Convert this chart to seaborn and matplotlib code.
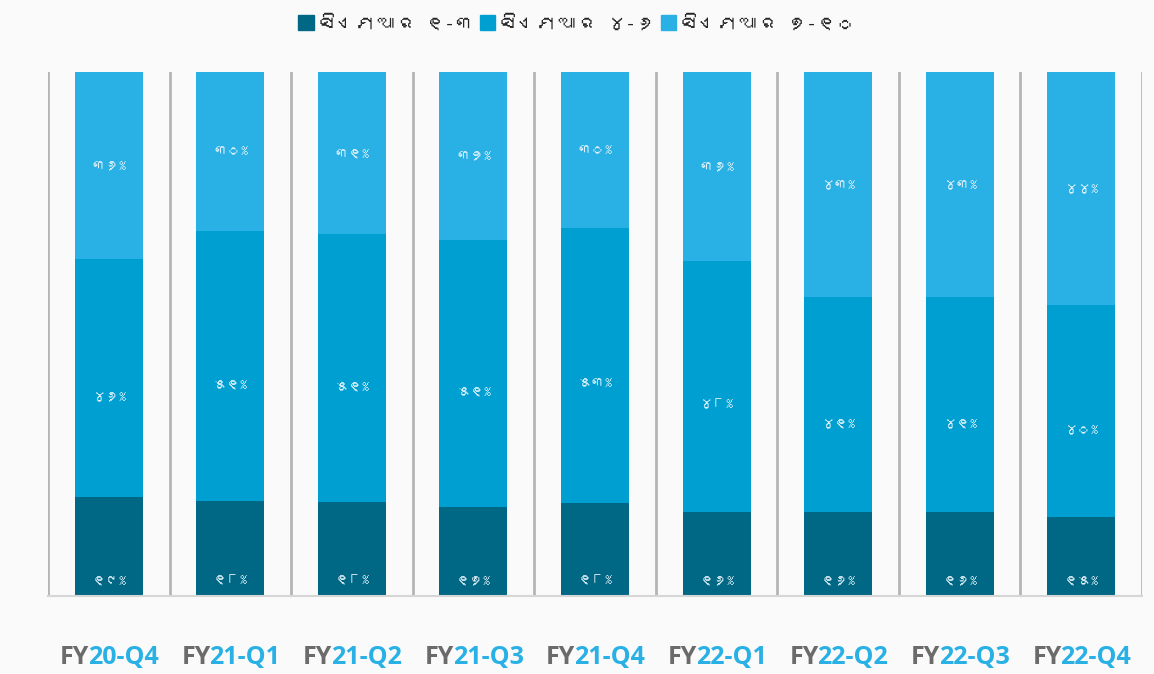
import numpy as np
import pandas as pd
import matplotlib
matplotlib.use('Agg')
import matplotlib.pyplot as plt
import seaborn as sns
from matplotlib import font_manager
from matplotlib.ft2font import FT2Font
from matplotlib.patches import Patch

# Data (percent of each quarter)
quarters = ['FY20-Q4', 'FY21-Q1', 'FY21-Q2', 'FY21-Q3', 'FY21-Q4',
            'FY22-Q1', 'FY22-Q2', 'FY22-Q3', 'FY22-Q4']
cmr_1_3 = [19, 18, 18, 17, 18, 16, 16, 16, 15]
cmr_4_6 = [46, 51, 51, 51, 53, 48, 41, 41, 40]
cmr_7_10 = [36, 30, 31, 32, 30, 36, 43, 43, 44]
series_names = ['ସିଏମଆର ୧-୩', 'ସିଏମଆର ୪-୬', 'ସିଏମଆର ୭-୧୦']
colors = ['#006885', '#009fd2', '#29b1e6']

# find a font that has Odia glyphs, if any is installed
odia_font = None
for f in font_manager.fontManager.ttflist:
    try:
        if 0x0B38 in FT2Font(f.fname).get_charmap():
            odia_font = f.name
            break
    except Exception:
        pass
fams = ([odia_font] if odia_font else []) + ['Noto Sans', 'DejaVu Sans']

sns.set_style('white')
plt.rcParams['font.family'] = fams

odia_digits = '୦୧୨୩୪୫୬୭୮୯'
def to_odia(n):
    return ''.join(odia_digits[int(c)] for c in str(n)) + '%'

df = pd.DataFrame({'quarter': quarters, 'a': cmr_1_3, 'b': cmr_4_6, 'c': cmr_7_10})
total = df['a'] + df['b'] + df['c']
# 100% stacked chart
df['s1'] = df['a'] / total
df['s2'] = (df['a'] + df['b']) / total
df['s3'] = 1.0

fig = plt.figure(figsize=(11.54, 6.74), dpi=100, facecolor='#fafafa')
ax = fig.add_axes([0.0416, 0.1157, 0.948, 0.7775])
ax.set_facecolor('none')

for col, c in zip(['s3', 's2', 's1'], colors[::-1]):
    sns.barplot(data=df, x='quarter', y=col, color=c, width=0.56, saturation=1,
                linewidth=0, edgecolor='none', ax=ax, zorder=2)

ax.set_xlim(-0.5, len(quarters) - 0.5)
ax.set_ylim(0, 1)
for b in np.arange(-0.5, len(quarters), 1.0):
    ax.axvline(b, color='#b5b5b5', lw=2, zorder=1)
for s in ['top', 'right', 'left']:
    ax.spines[s].set_visible(False)
ax.spines['bottom'].set_color('#d6d6d6')
ax.spines['bottom'].set_linewidth(1.5)
ax.set_yticks([])
ax.set_xticks([])
ax.set_xlabel('')
ax.set_ylabel('')

lab_color = '#e4f3fa'
for i in range(len(quarters)):
    s1, s2 = df['s1'][i], df['s2'][i]
    ax.text(i, 0.03, to_odia(cmr_1_3[i]), ha='center', va='center', fontsize=10, color=lab_color, zorder=3)
    ax.text(i, (s1 + s2) / 2 - 0.035, to_odia(cmr_4_6[i]), ha='center', va='center', fontsize=10, color=lab_color, zorder=3)
    ax.text(i, (s2 + 1) / 2, to_odia(cmr_7_10[i]), ha='center', va='center', fontsize=10, color=lab_color, zorder=3)
    # two-coloured category label
    ax.annotate(quarters[i][:2], xy=(i, 0), xycoords=('data', 'axes fraction'),
                xytext=(-14, -44), textcoords='offset points', ha='right', va='center',
                fontsize=18, fontweight='bold', color='#6b6b6b', family='Open Sans')
    ax.annotate(quarters[i][2:], xy=(i, 0), xycoords=('data', 'axes fraction'),
                xytext=(-15, -44), textcoords='offset points', ha='left', va='center',
                fontsize=18, fontweight='bold', color='#29b1e6', family='Open Sans')

handles = [Patch(color=c, label=n) for c, n in zip(colors, series_names)]
fig.legend(handles=handles, loc='upper center', bbox_to_anchor=(0.5, 1.005), ncol=3,
           frameon=False, fontsize=14, handlelength=0.8, handleheight=0.8,
           handletextpad=0.2, columnspacing=0.3)

fig.savefig('out.png', dpi=100, facecolor=fig.get_facecolor())
